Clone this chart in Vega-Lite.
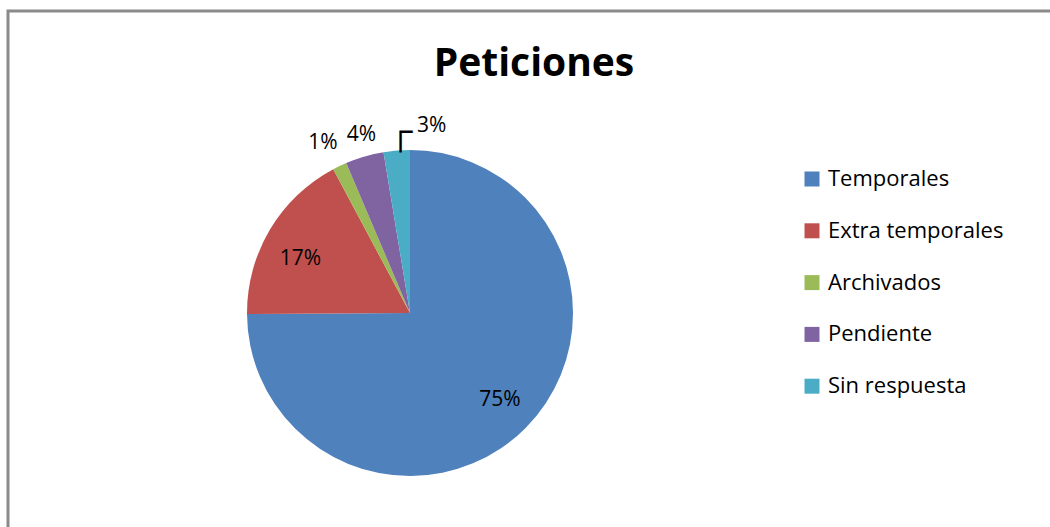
{
  "$schema": "https://vega.github.io/schema/vega-lite/v6.json",
  "width": 1100,
  "height": 600,
  "autosize": {"type": "none"},
  "padding": {"left": 8, "top": 11, "right": 0, "bottom": 0},
  "background": "white",
  "config": {
    "view": {"stroke": null},
    "font": "Open Sans",
    "legend": {
      "orient": "none",
      "legendX": 793,
      "legendY": 157,
      "padding": 0,
      "labelFont": "Open Sans",
      "labelFontSize": 22,
      "labelColor": "#000000",
      "labelOffset": 5,
      "labelLimit": 400,
      "symbolType": "square",
      "symbolSize": 225,
      "symbolStrokeWidth": 0,
      "symbolOpacity": 1,
      "rowPadding": 29.8
    }
  },
  "title": {
    "text": "Peticiones",
    "font": "Open Sans",
    "fontSize": 39,
    "fontWeight": "bold",
    "color": "#000000",
    "anchor": "middle",
    "dx": -24,
    "offset": -105,
    "baseline": "alphabetic"
  },
  "data": {
    "values": [
      {"categoria": "Temporales", "pct": 0.749, "orden": 1},
      {"categoria": "Extra temporales", "pct": 0.173, "orden": 2},
      {"categoria": "Archivados", "pct": 0.014, "orden": 3},
      {"categoria": "Pendiente", "pct": 0.038, "orden": 4},
      {"categoria": "Sin respuesta", "pct": 0.026, "orden": 5}
    ]
  },
  "encoding": {
    "theta": {"field": "pct", "type": "quantitative", "stack": true},
    "order": {"field": "orden", "type": "quantitative"}
  },
  "layer": [
    {
      "data": {"values": [{"marco": 1}]},
      "mark": {"type": "rect", "filled": false, "stroke": "#8a8a8a", "strokeWidth": 3},
      "encoding": {"theta": null, "order": null}
    },
    {
      "mark": {"type": "arc", "radius": 163, "x": 402, "y": 302},
      "encoding": {
        "color": {
          "field": "categoria",
          "type": "nominal",
          "scale": {
            "domain": ["Temporales", "Extra temporales", "Archivados", "Pendiente", "Sin respuesta"],
            "range": ["#4F81BD", "#C0504D", "#9BBB59", "#8064A2", "#4BACC6"]
          },
          "legend": {"title": null}
        }
      }
    },
    {
      "mark": {"type": "text", "radius": 124, "x": 402, "y": 302, "dx": 2, "fontSize": 21, "font": "Open Sans", "color": "#000000", "baseline": "middle"},
      "encoding": {
        "text": {"condition": {"test": "datum.categoria == 'Temporales'", "field": "pct", "format": ".0%"}, "value": ""}
      }
    },
    {
      "mark": {"type": "text", "radius": 124, "x": 402, "y": 302, "dx": -3, "dy": 9, "fontSize": 21, "font": "Open Sans", "color": "#000000", "baseline": "middle"},
      "encoding": {
        "text": {"condition": {"test": "datum.categoria == 'Extra temporales'", "field": "pct", "format": ".0%"}, "value": ""}
      }
    },
    {
      "mark": {"type": "text", "radius": 188, "x": 402, "y": 302, "dx": -6, "fontSize": 21, "font": "Open Sans", "color": "#000000", "baseline": "middle"},
      "encoding": {
        "text": {"condition": {"test": "datum.categoria == 'Archivados'", "field": "pct", "format": ".0%"}, "value": ""}
      }
    },
    {
      "mark": {"type": "text", "radius": 188, "x": 402, "y": 302, "dx": 4, "dy": 3, "fontSize": 21, "font": "Open Sans", "color": "#000000", "baseline": "middle"},
      "encoding": {
        "text": {"condition": {"test": "datum.categoria == 'Pendiente'", "field": "pct", "format": ".0%"}, "value": ""}
      }
    },
    {
      "mark": {"type": "text", "radius": 188, "x": 402, "y": 302, "dx": 37, "fontSize": 21, "font": "Open Sans", "color": "#000000", "baseline": "middle"},
      "encoding": {
        "text": {"condition": {"test": "datum.categoria == 'Sin respuesta'", "field": "pct", "format": ".0%"}, "value": ""}
      }
    },
    {
      "mark": {"type": "text", "radius": 188, "x": 402, "y": 302, "dx": 6, "dy": 6, "fontSize": 34, "font": "DejaVu Sans", "fontWeight": 200, "color": "#000000", "baseline": "middle"},
      "encoding": {
        "text": {"condition": {"test": "datum.categoria == 'Sin respuesta'", "value": "┌"}, "value": ""}
      }
    }
  ]
}
